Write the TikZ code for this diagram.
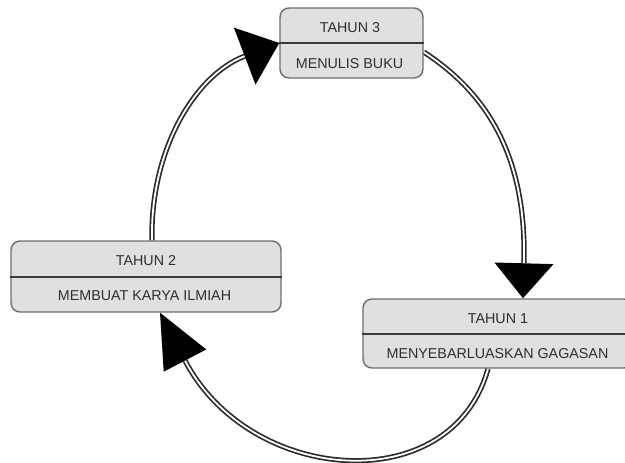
\documentclass[tikz,border=0pt]{standalone}
\usepackage{fontspec}
\setmainfont{Liberation Sans}
\usetikzlibrary{arrows.meta,calc,backgrounds}
\definecolor{boxfill}{HTML}{E0E0E0}
\definecolor{boxline}{HTML}{6E6E6E}
\definecolor{divline}{HTML}{3A3A3A}
\definecolor{txt}{HTML}{2E2E2E}
\definecolor{arcline}{HTML}{2A2A2A}
\tikzset{
  yearbox/.style={draw=boxline, fill=boxfill, line width=1.4pt, rounded corners=9pt, inner sep=0pt},
  divider/.style={draw=divline, line width=2pt},
  lbl/.style={inner sep=0pt, text=txt, font=\fontsize{14.3pt}{16pt}\selectfont},
  cyc/.style={draw=arcline, line width=1.7pt, double=white, double distance=1.8pt}
}
\begin{document}
\begin{tikzpicture}[x=1pt,y=-1pt]
\useasboundingbox (0,0) rectangle (625,463);
% boxes
\node[yearbox, minimum width=143pt, minimum height=70pt] (t3) at (351.5,43) {};
\draw[divider] (t3.west) -- (t3.east);
\node[lbl] (t3a) at (350,27.5) {TAHUN 3};
\node[lbl] (t3b) at (349.5,63.5) {MENULIS BUKU};

\node[yearbox, minimum width=270pt, minimum height=71pt] (t2) at (146,276.5) {};
\draw[divider] (t2.west) -- (t2.east);
\node[lbl] (t2a) at (146,261) {TAHUN 2};
\node[lbl] (t2b) at (144.5,296) {MEMBUAT KARYA ILMIAH};

\node[yearbox, minimum width=270pt, minimum height=69pt] (t1) at (498,333.5) {};
\draw[divider] (t1.west) -- (t1.east);
\node[lbl] (t1a) at (498,319) {TAHUN 1};
\node[lbl] (t1b) at (497.5,354) {MENYEBARLUASKAN GAGASAN};

% connectors
\begin{scope}[on background layer]
\draw[cyc, -{Triangle[length=35pt,width=59pt,color=black,line width=0pt]}]
  ($(t3.east)+(0,9)$) .. controls (482,90) and (527,150) .. ($(t1.north)+(25,0)$);
\draw[cyc, -{Triangle[length=54pt,width=48pt,color=black,line width=0pt]}]
  ($(t1.south)+(-10,0)$) .. controls (452,500) and (250,485) .. ($(t2.south)+(14,0)$);
\draw[cyc, -{Triangle[length=37pt,width=61pt,color=black,line width=0pt]}]
  ($(t2.north)+(6,0)$) .. controls (150,150) and (195,75) .. (t3.west);
\end{scope}
\end{tikzpicture}
\end{document}
